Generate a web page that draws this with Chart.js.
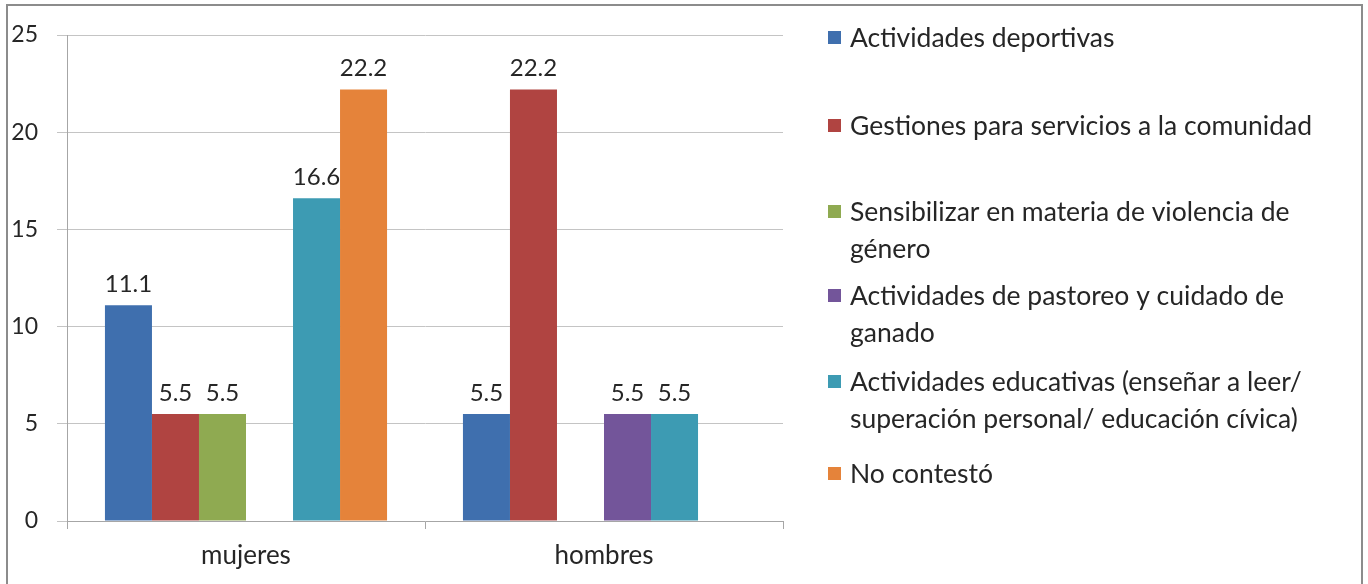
<!DOCTYPE html>
<html>
<head>
<meta charset="utf-8">
<script src="https://cdn.jsdelivr.net/npm/chart.js@4.4.1/dist/chart.umd.min.js"></script>
<style>
  html, body { margin: 0; padding: 0; background: #fff; }
  #wrap { width: 1368px; height: 584px; }
</style>
</head>
<body>
<div id="wrap"><canvas id="chart" width="1368" height="584"></canvas></div>
<script>
const groups = ["mujeres", "hombres"];

const seriesNames = [
  "Actividades deportivas",
  "Gestiones para servicios a la comunidad",
  "Sensibilizar en materia de violencia de género",
  "Actividades de pastoreo y cuidado de ganado",
  "Actividades educativas (enseñar a leer/ superación personal/ educación cívica)",
  "No contestó",
];

// one value per group (mujeres, hombres); null = no answer in that group
const deportivas = [11.1, 5.5];
const gestiones = [5.5, 22.2];
const sensibilizar = [5.5, null];
const pastoreo = [null, 5.5];
const educativas = [16.6, 5.5];
const noContesto = [22.2, null];

const yTicks = [0, 5, 10, 15, 20, 25];

const colors = ["#3F6FAE", "#B04441", "#8FAA51", "#73559A", "#3D9BB3", "#E5833A"];
const values = [deportivas, gestiones, sensibilizar, pastoreo, educativas, noContesto];

const FONT = "Lato, 'Liberation Sans', sans-serif";
const TEXT = "#262626";

// outer frame around the whole chart
const frame = {
  id: "frame",
  beforeDraw(chart) {
    const c = chart.ctx;
    c.save();
    c.strokeStyle = "#8C8C8C";
    c.lineWidth = 2;
    c.strokeRect(7, 5, 1355, 620);
    c.restore();
  },
};

// numbers above each bar
const barValues = {
  id: "barValues",
  afterDatasetsDraw(chart) {
    const c = chart.ctx;
    c.save();
    c.font = "24px " + FONT;
    c.fillStyle = TEXT;
    c.textAlign = "center";
    c.textBaseline = "middle";
    chart.data.datasets.forEach((ds, i) => {
      chart.getDatasetMeta(i).data.forEach((bar, j) => {
        const v = ds.data[j];
        if (v === null) return;
        c.fillText(String(v), bar.x, bar.y - 21);
      });
    });
    c.restore();
  },
};

// legend on the right, with wrapped labels
const sideLegend = {
  id: "sideLegend",
  afterDraw(chart, args, opts) {
    const c = chart.ctx;
    c.save();
    c.font = "26.5px " + FONT;
    c.fillStyle = TEXT;
    c.textBaseline = "alphabetic";
    chart.data.datasets.forEach((ds, i) => {
      const words = ds.label.split(" ");
      const lines = [];
      let line = "";
      words.forEach((w) => {
        const test = line ? line + " " + w : w;
        if (line && c.measureText(test).width > opts.maxWidth) {
          lines.push(line);
          line = w;
        } else {
          line = test;
        }
      });
      lines.push(line);
      const y0 = opts.baselines[i];
      c.fillStyle = ds.backgroundColor;
      c.fillRect(opts.x - 22, y0 - 16, 13, 13);
      c.fillStyle = TEXT;
      lines.forEach((ln, k) => c.fillText(ln, opts.x, y0 + k * opts.lineHeight));
    });
    c.restore();
  },
};

new Chart(document.getElementById("chart"), {
  type: "bar",
  data: {
    labels: groups,
    datasets: seriesNames.map((name, i) => ({
      label: name,
      data: values[i],
      backgroundColor: colors[i],
      borderWidth: 0,
      categoryPercentage: 0.788,
      barPercentage: 1,
    })),
  },
  options: {
    responsive: false,
    animation: false,
    devicePixelRatio: 1,
    layout: { padding: { left: 0, top: 35, right: 585, bottom: 0 } },
    plugins: {
      legend: { display: false },
      tooltip: { enabled: false },
      sideLegend: { x: 850, maxWidth: 485, lineHeight: 37, baselines: [47, 135, 221, 305, 391, 483] },
    },
    scales: {
      x: {
        afterFit(scale) { scale.height = 63; },
        grid: { drawOnChartArea: false, drawTicks: true, tickLength: 8, color: "#A6A6A6", offset: true },
        border: { color: "#A6A6A6", width: 1 },
        ticks: { color: TEXT, font: { family: FONT, size: 26 }, padding: 11 },
      },
      y: {
        min: 0,
        max: 25,
        afterFit(scale) { scale.width = 67; },
        afterBuildTicks(scale) { scale.ticks = yTicks.map((v) => ({ value: v })); },
        grid: { color: "#C4C4C4", tickLength: 10, drawTicks: true },
        border: { color: "#A6A6A6", width: 1 },
        ticks: { color: TEXT, font: { family: FONT, size: 23 }, padding: 19 },
      },
    },
  },
  plugins: [frame, barValues, sideLegend],
});
</script>
</body>
</html>
